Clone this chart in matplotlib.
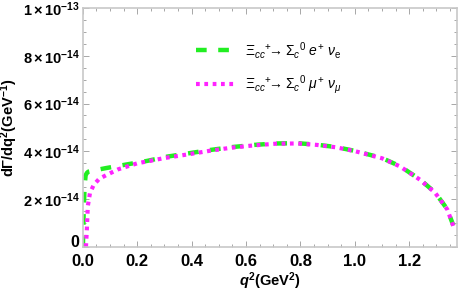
import numpy as np
import matplotlib
matplotlib.use("Agg")
import matplotlib.pyplot as plt
from matplotlib.ticker import MultipleLocator, FixedLocator

# values (units of 1e-14 GeV^-1)
q2_e = [0.0, 0.003, 0.006, 0.010, 0.015, 0.02, 0.04, 0.085, 0.16, 0.236, 0.31, 0.39,
        0.47, 0.55, 0.63, 0.71, 0.79, 0.86, 0.93, 1.00, 1.10, 1.166, 1.24, 1.295,
        1.34, 1.362]
rate_e = [0.0, 1.5, 2.5, 3.0, 3.1, 3.15, 3.2, 3.3, 3.45, 3.6, 3.78, 3.92,
          4.06, 4.18, 4.27, 4.33, 4.34, 4.28, 4.18, 4.02, 3.72, 3.38, 2.82, 2.28,
          1.58, 0.9]
q2_mu = [0.0112, 0.013, 0.015, 0.018, 0.026, 0.04, 0.06, 0.085, 0.13, 0.2, 0.3, 0.39,
         0.47, 0.55, 0.63, 0.71, 0.79, 0.86, 0.93, 1.00, 1.10, 1.166, 1.24, 1.295,
         1.34, 1.362]
rate_mu = [0.0, 0.4, 0.84, 1.7, 2.26, 2.6, 2.85, 3.0, 3.25, 3.5, 3.72, 3.88,
           4.03, 4.16, 4.25, 4.32, 4.33, 4.27, 4.17, 4.01, 3.71, 3.37, 2.81, 2.27,
           1.57, 0.88]

xticks = [0.0, 0.2, 0.4, 0.6, 0.8, 1.0, 1.2]
yticks = [0, 2e-14, 4e-14, 6e-14, 8e-14, 1e-13]
ylabels = [r"$\mathbf{0}$", r"$\mathbf{2\times10^{-14}}$", r"$\mathbf{4\times10^{-14}}$",
           r"$\mathbf{6\times10^{-14}}$", r"$\mathbf{8\times10^{-14}}$",
           r"$\mathbf{1\times10^{-13}}$"]

plt.rcParams['font.family'] = ['Liberation Sans', 'DejaVu Sans']
plt.rcParams['mathtext.fontset'] = 'custom'
plt.rcParams['mathtext.rm'] = 'Liberation Sans'
plt.rcParams['mathtext.it'] = 'Liberation Sans:italic'
plt.rcParams['mathtext.bf'] = 'Liberation Sans:bold'
plt.rcParams['mathtext.sf'] = 'Liberation Sans:bold:italic'

fig = plt.figure(figsize=(4.58, 2.94), dpi=100)
ax = fig.add_axes([0.181, 0.16, 0.817, 0.813])

ax.plot(q2_e, np.array(rate_e) * 1e-14, color='#22ee22', lw=3.2, ls=(0, (2.4, 2.6)),
        label=r'$\Xi_{cc}{}^{+}\!\!\rightarrow \Sigma_{c}{}^{0}\ \mathit{e}^{+}\ \nu_{\mathrm{e}}$')
ax.plot(q2_mu, np.array(rate_mu) * 1e-14, color='#ff22ff', lw=3.0, ls=(0, (0.9, 1.1)),
        label=r'$\Xi_{cc}{}^{+}\!\!\rightarrow \Sigma_{c}{}^{0}\ \mu^{+}\ \nu_{\mu}$')

ax.set_xlim(0, 1.376)
ax.set_ylim(0, 1e-13)
ax.xaxis.set_major_locator(FixedLocator(xticks))
ax.xaxis.set_minor_locator(MultipleLocator(0.05))
ax.yaxis.set_major_locator(FixedLocator(yticks))
ax.yaxis.set_minor_locator(MultipleLocator(5e-15))
ax.set_xticklabels(["%.1f" % v for v in xticks], fontsize=12, fontweight='bold')
ax.set_yticklabels(ylabels, fontsize=10.5)
ax.get_yticklabels()[0].set_fontsize(11.5)
ax.get_yticklabels()[0].set_va('baseline')

for s in ax.spines.values():
    s.set_color('#c8c8c8')
    s.set_linewidth(1.2)
ax.tick_params(which='both', direction='in', top=True, right=True, color='#999999',
               width=0.6)
ax.tick_params(axis='y', pad=2)
ax.tick_params(axis='x', pad=5)
ax.tick_params(which='major', length=4)
ax.tick_params(which='minor', length=2.2)

ax.set_xlabel(r'$\mathsf{q}^{\mathbf{2}}$(GeV$^{\mathbf{2}}$)', fontsize=10.5,
              fontweight='bold', labelpad=1)
ax.set_ylabel(r'$\mathbf{d\Gamma/dq^{2}}$(GeV$^{\mathbf{-1}}$)', fontsize=10.5,
              fontweight='bold', labelpad=2)

leg = ax.legend(loc='upper left', bbox_to_anchor=(0.27, 0.92), frameon=False,
                fontsize=10, handlelength=2.7, handletextpad=0.8, labelspacing=0.9)

fig.savefig('out.png', dpi=100)
